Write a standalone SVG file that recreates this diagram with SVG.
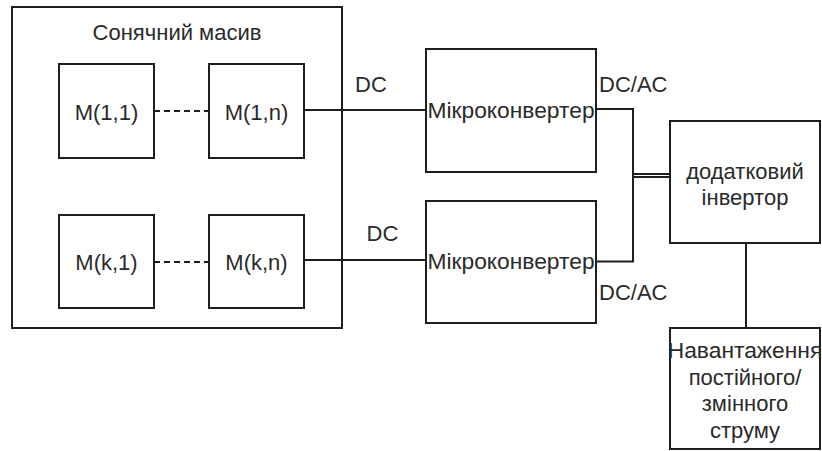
<svg xmlns="http://www.w3.org/2000/svg" width="822" height="451" viewBox="0 0 822 451">
  <style>
    .box { fill: #ffffff; stroke: #1e1e1e; stroke-width: 2; }
    .wire { fill: none; stroke: #1e1e1e; stroke-width: 2; }
    .dash { fill: none; stroke: #1e1e1e; stroke-width: 2; stroke-dasharray: 6 4; }
    text { font-family: "Liberation Sans", Arial, sans-serif; font-size: 22px; fill: #2a2a2a; }
    .c { text-anchor: middle; }
    .w { font-size: 22.8px; }
  </style>
  <rect width="822" height="451" fill="#ffffff"/>

  <!-- solar array container -->
  <g id="array">
    <rect class="box" x="12" y="7" width="330" height="321"/>
    <text class="c" x="177" y="40">Сонячний масив</text>
  </g>

  <g id="m11">
    <rect class="box" x="59" y="64" width="95" height="94"/>
    <text class="c" x="106.5" y="120">M(1,1)</text>
  </g>
  <g id="m1n">
    <rect class="box" x="209" y="64" width="95" height="94"/>
    <text class="c" x="256.5" y="120">M(1,n)</text>
  </g>
  <g id="mk1">
    <rect class="box" x="59" y="215" width="95" height="93"/>
    <text class="c" x="106.5" y="270">M(k,1)</text>
  </g>
  <g id="mkn">
    <rect class="box" x="209" y="215" width="95" height="93"/>
    <text class="c" x="256.5" y="270">M(k,n)</text>
  </g>

  <g id="conv1">
    <rect class="box" x="426" y="49" width="170" height="123"/>
    <text class="c w" x="511" y="118">Мікроконвертер</text>
  </g>
  <g id="conv2">
    <rect class="box" x="426" y="201" width="170" height="122"/>
    <text class="c w" x="511" y="269">Мікроконвертер</text>
  </g>

  <g id="inverter">
    <rect class="box" x="670" y="121" width="150" height="122"/>
    <text class="c" x="745" y="179">додатковий</text>
    <text class="c" x="745" y="205">інвертор</text>
  </g>

  <g id="load">
    <rect class="box" x="670" y="328" width="150" height="121"/>
    <text class="c w" x="745" y="358">Навантаження</text>
    <text class="c" x="745" y="384.5">постійного/</text>
    <text class="c" x="745" y="411">змінного</text>
    <text class="c" x="745" y="437.5">струму</text>
  </g>

  <!-- connectors -->
  <g id="connectors">
    <line class="dash" x1="154" y1="111" x2="209" y2="111"/>
    <line class="dash" x1="154" y1="262" x2="209" y2="262"/>
    <line class="wire" x1="304" y1="110" x2="426" y2="110"/>
    <line class="wire" x1="304" y1="260" x2="426" y2="260"/>
    <polyline class="wire" points="596,109 633,109 633,177"/>
    <polyline class="wire" points="596,261.5 633,261.5 633,174"/>
    <line class="wire" x1="633" y1="174" x2="670" y2="174"/>
    <line class="wire" x1="633" y1="177" x2="670" y2="177"/>
    <line class="wire" x1="746" y1="243" x2="746" y2="328"/>
  </g>

  <!-- connector labels -->
  <g id="labels">
    <text class="c" x="371" y="91.5">DC</text>
    <text class="c" x="382.5" y="241">DC</text>
    <text x="599" y="91.5">DC/AC</text>
    <text x="599" y="300">DC/AC</text>
  </g>
</svg>
